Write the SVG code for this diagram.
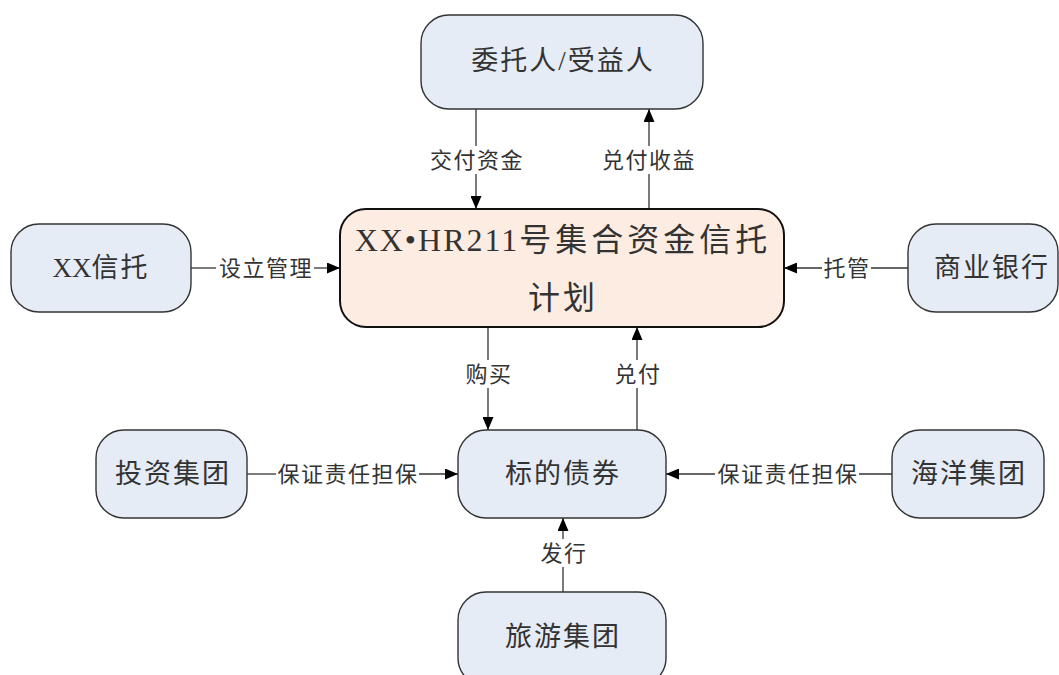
<svg xmlns="http://www.w3.org/2000/svg" width="1059" height="675" viewBox="0 0 1059 675">
<defs>
<style>
.node{fill:#e6ecf6;stroke:#333;stroke-width:1.4}
.main{fill:#fdece1;stroke:#111;stroke-width:2}
.t{font-family:"Liberation Serif","Noto Sans CJK SC",serif;fill:#333;text-anchor:middle;dominant-baseline:central}
.nt{font-size:27px;letter-spacing:2px}
.mt{font-size:32px}
.lt{font-size:22px;letter-spacing:1.5px}
.c{stroke:#333;stroke-width:1.3;fill:none}
</style>
<marker id="ah" viewBox="0 0 13 11" refX="13" refY="5.5" markerWidth="13" markerHeight="11" markerUnits="userSpaceOnUse" orient="auto">
<path d="M0,0 L13,5.5 L0,11 Z" fill="#000"/>
</marker>
</defs>
<rect width="1059" height="675" fill="#fff"/>

<g id="connectors">
<g id="c1"><line class="c" x1="476" y1="109" x2="476" y2="146"/><line class="c" x1="476" y1="174" x2="476" y2="209" marker-end="url(#ah)"/>
<text class="t lt" x="477" y="160">交付资金</text></g>
<g id="c2"><line class="c" x1="649" y1="209" x2="649" y2="174"/><line class="c" x1="649" y1="146" x2="649" y2="109" marker-end="url(#ah)"/>
<text class="t lt" x="649" y="160">兑付收益</text></g>
<g id="c3"><line class="c" x1="191" y1="268" x2="216" y2="268"/><line class="c" x1="314" y1="268" x2="340" y2="268" marker-end="url(#ah)"/>
<text class="t lt" x="266" y="268">设立管理</text></g>
<g id="c4"><line class="c" x1="908" y1="268" x2="871" y2="268"/><line class="c" x1="822" y1="268" x2="784" y2="268" marker-end="url(#ah)"/>
<text class="t lt" x="847" y="268">托管</text></g>
<g id="c5"><line class="c" x1="488" y1="327" x2="488" y2="360"/><line class="c" x1="488" y1="388" x2="488" y2="430" marker-end="url(#ah)"/>
<text class="t lt" x="489" y="374">购买</text></g>
<g id="c6"><line class="c" x1="637" y1="430" x2="637" y2="388"/><line class="c" x1="637" y1="360" x2="637" y2="327" marker-end="url(#ah)"/>
<text class="t lt" x="638" y="374">兑付</text></g>
<g id="c7"><line class="c" x1="247" y1="474" x2="276" y2="474"/><line class="c" x1="419" y1="474" x2="458" y2="474" marker-end="url(#ah)"/>
<text class="t lt" x="348" y="474">保证责任担保</text></g>
<g id="c8"><line class="c" x1="892" y1="474" x2="859" y2="474"/><line class="c" x1="715" y1="474" x2="666" y2="474" marker-end="url(#ah)"/>
<text class="t lt" x="788" y="474">保证责任担保</text></g>
<g id="c9"><line class="c" x1="563" y1="592" x2="563" y2="567"/><line class="c" x1="563" y1="539" x2="563" y2="518" marker-end="url(#ah)"/>
<text class="t lt" x="564" y="553">发行</text></g>
</g>

<g id="n-weituoren"><rect class="node" x="421" y="15" width="282" height="94" rx="28"/><text class="t nt" x="563" y="61">委托人/受益人</text></g>
<g id="n-plan"><rect class="main" x="340" y="209" width="444" height="118" rx="26"/>
<text class="t mt" x="563" y="240"><tspan style="letter-spacing:2px">XX•HR211</tspan><tspan style="letter-spacing:4px">号集合资金信托</tspan></text>
<text class="t mt" x="563" y="298" style="letter-spacing:3px">计划</text></g>
<g id="n-xxtrust"><rect class="node" x="11" y="224" width="180" height="88" rx="28"/><text class="t nt" x="101" y="268"><tspan style="letter-spacing:0">XX</tspan>信托</text></g>
<g id="n-bank"><rect class="node" x="908" y="224" width="150" height="88" rx="28"/><text class="t nt" x="992" y="268">商业银行</text></g>
<g id="n-invest"><rect class="node" x="96" y="430" width="151" height="88" rx="28"/><text class="t nt" x="173" y="474">投资集团</text></g>
<g id="n-bond"><rect class="node" x="458" y="430" width="208" height="88" rx="28"/><text class="t nt" x="563" y="474">标的债券</text></g>
<g id="n-ocean"><rect class="node" x="892" y="430" width="152" height="88" rx="28"/><text class="t nt" x="969" y="474">海洋集团</text></g>
<g id="n-tour"><rect class="node" x="458" y="592" width="208" height="94" rx="28"/><text class="t nt" x="563" y="637">旅游集团</text></g>
</svg>
